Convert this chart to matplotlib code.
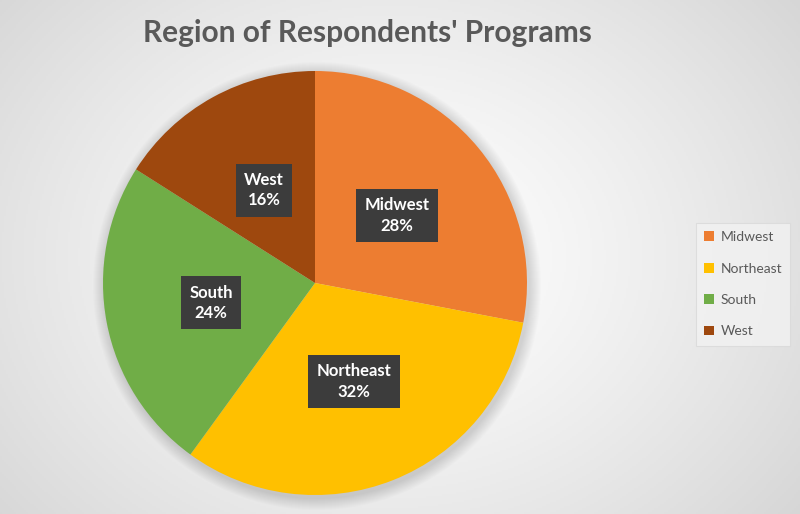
import numpy as np
import matplotlib.pyplot as plt
from matplotlib.patches import Circle, Patch

regions = ['Midwest', 'Northeast', 'South', 'West']
shares = [28, 32, 24, 16]
colors = ['#ED7D31', '#FFC000', '#70AD47', '#9E480E']

plt.rcParams['font.family'] = ['Lato', 'DejaVu Sans']

fig = plt.figure(figsize=(8, 5.14), dpi=100)
ax = fig.add_axes([0, 0, 1, 1])
ax.set_xlim(0, 800)
ax.set_ylim(0, 514)
ax.axis('off')

# radial gradient background
gx, gy = np.meshgrid(np.linspace(0, 800, 400), np.linspace(0, 514, 257))
d = np.sqrt(((gx - 390) / 520) ** 2 + ((gy - 257) / 420) ** 2)
g = 1.0 - 0.16 * np.clip(d, 0, 1) ** 1.3
ax.imshow(np.dstack([g, g, g]), extent=(0, 800, 0, 514), origin='lower', zorder=0)

cx, cy, r = 315, 231, 212

# soft shadow
for i in range(12):
    ax.add_patch(Circle((cx + 2, cy - 3), r + 12 - i, color='black', alpha=0.012, lw=0, zorder=1))

names = iter(regions)
wedges, texts, autotexts = ax.pie(
    shares, colors=colors, startangle=90, counterclock=False,
    center=(cx, cy), radius=r, frame=True,
    autopct=lambda p: f'{next(names)}\n{p:.0f}%', pctdistance=0.5,
    wedgeprops=dict(linewidth=0))
for w in wedges:
    w.set_zorder(2)
for t in autotexts:
    t.set_color('white')
    t.set_fontsize(12)
    t.set_fontweight('bold')
    t.set_linespacing(1.35)
    t.set_zorder(4)
    t.set_bbox(dict(boxstyle='square,pad=0.5', fc='#3c3c3c', ec='none'))
ax.set_xlim(0, 800)
ax.set_ylim(0, 514)
ax.axis('off')

fig.text(0.459, 0.935, "Region of Respondents' Programs", ha='center', va='center',
         fontsize=21.5, fontweight='bold', color='#595959')

handles = [Patch(facecolor=c, edgecolor='none') for c in colors]
leg = fig.legend(handles, regions, loc='center', bbox_to_anchor=(0.929, 0.447),
                 frameon=True, fontsize=10, labelspacing=1.4, handlelength=0.7,
                 handleheight=0.7, handletextpad=0.45, borderpad=0.6, borderaxespad=0,
                 fancybox=False, labelcolor='#595959')
leg.get_frame().set_facecolor('#f2f2f2')
leg.get_frame().set_edgecolor('#d9d9d9')
leg.get_frame().set_linewidth(0.8)

fig.savefig('out.png', dpi=100)
